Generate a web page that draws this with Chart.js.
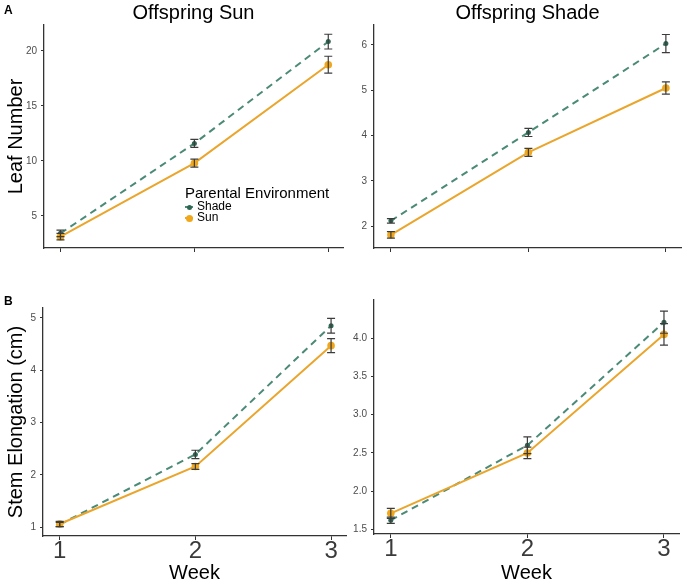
<!DOCTYPE html>
<html>
<head>
<meta charset="utf-8">
<script src="https://cdn.jsdelivr.net/npm/chart.js@4/dist/chart.umd.min.js"></script>
<style>
  body { margin: 0; background: #fff; font-family: 'Liberation Sans', Arial, sans-serif; }
  #wrap { position: relative; width: 686px; height: 585px; overflow: hidden; }
  canvas { position: absolute; }
  .tag { position: absolute; font-weight: bold; font-size: 12px; color: #000; }
  #legend { position: absolute; left: 185px; top: 184px; color: #000; }
  #legend .ttl { font-size: 15px; line-height: 17px; }
  #legend .item { font-size: 12px; line-height: 11px; position: relative; padding-left: 12px; }
  #legend .ln { position: absolute; left: 0; top: 5px; width: 8px; height: 2px; }
  #legend .pt { position: absolute; border-radius: 50%; }
</style>
</head>
<body>
<div id="wrap">
  <canvas id="leafSun" width="350" height="290" style="left:0;top:0"></canvas>
  <canvas id="leafShade" width="346" height="290" style="left:340px;top:0"></canvas>
  <canvas id="stemSun" width="350" height="300" style="left:0;top:285px"></canvas>
  <canvas id="stemShade" width="346" height="300" style="left:340px;top:285px"></canvas>
  <div class="tag" style="left:4px;top:3px">A</div>
  <div class="tag" style="left:4px;top:294px">B</div>
  <div id="legend"></div>
</div>
<script>
// ── data ────────────────────────────────────────────────
const weeks = [1, 2, 3];
const seriesNames = ['Shade', 'Sun'];   // parental environment

// Leaf number – offspring in sun
const leafSunShade = [3.42, 11.6, 20.85];
const leafSunShadeErr = [0.3, 0.36, 0.67];
const leafSunSun = [3.12, 9.8, 18.75];
const leafSunSunErr = [0.3, 0.36, 0.77];

// Leaf number – offspring in shade
const leafShadeShade = [2.12, 4.07, 6.03];
const leafShadeShadeErr = [0.05, 0.09, 0.2];
const leafShadeSun = [1.81, 3.63, 5.05];
const leafShadeSunErr = [0.07, 0.09, 0.135];

// Stem elongation – offspring in sun
const stemSunShade = [1.05, 2.39, 4.85];
const stemSunShadeErr = [0.04, 0.08, 0.14];
const stemSunSun = [1.06, 2.16, 4.47];
const stemSunSunErr = [0.05, 0.055, 0.135];

// Stem elongation – offspring in shade
const stemShadeShade = [1.62, 2.6, 4.21];
const stemShadeShadeErr = [0.04, 0.11, 0.145];
const stemShadeSun = [1.71, 2.5, 4.05];
const stemShadeSunErr = [0.065, 0.075, 0.14];

const leafSunTicks = [5, 10, 15, 20];
const leafShadeTicks = [2, 3, 4, 5, 6];
const stemSunTicks = [1, 2, 3, 4, 5];
const stemShadeTicks = [1.5, 2.0, 2.5, 3.0, 3.5, 4.0];
const weekTicks = [1, 2, 3];

// ── styling ─────────────────────────────────────────────
Chart.defaults.font.family = "'Liberation Sans', Arial, sans-serif";
const shadeLine = '#4b8a77', shadePoint = '#2e6654';
const sunLine = '#eaa52c', sunPoint = '#f0a71c';
const axisCol = '#333333';

// error bars drawn from each dataset's `errors` array
const errorBars = {
    id: 'errorBars',
    afterDatasetsDraw(chart) {
        const ctx = chart.ctx, xs = chart.scales.x, ys = chart.scales.y;
        ctx.save();
        ctx.strokeStyle = '#3c3c3c';
        ctx.lineWidth = 1.2;
        chart.data.datasets.forEach(function (ds) {
            ds.data.forEach(function (p, i) {
                const e = ds.errors[i];
                const px = xs.getPixelForValue(p.x);
                const t = ys.getPixelForValue(p.y + e), b = ys.getPixelForValue(p.y - e);
                ctx.beginPath();
                ctx.moveTo(px, t); ctx.lineTo(px, b);
                ctx.moveTo(px - 4, t); ctx.lineTo(px + 4, t);
                ctx.moveTo(px - 4, b); ctx.lineTo(px + 4, b);
                ctx.stroke();
            });
        });
        ctx.restore();
    },
};

function pts(vals) { return weeks.map((w, i) => ({ x: w, y: vals[i] })); }

function panel(id, o) {
    new Chart(document.getElementById(id), {
        type: 'line',
        data: {
            datasets: [{
                label: seriesNames[0],
                data: pts(o.shade), errors: o.shadeErr,
                borderColor: shadeLine, borderWidth: 2, borderDash: [7, 5],
                pointRadius: 2.5, pointBackgroundColor: shadePoint, pointBorderWidth: 0,
                order: 1,
            }, {
                label: seriesNames[1],
                data: pts(o.sun), errors: o.sunErr,
                borderColor: sunLine, borderWidth: 2,
                pointRadius: 3.8, pointBackgroundColor: sunPoint, pointBorderWidth: 0,
                order: 0,
            }],
        },
        options: {
            responsive: false,
            animation: false,
            layout: { padding: { top: o.padTop, right: o.padRight, left: 0, bottom: 0 } },
            plugins: {
                legend: { display: false },
                tooltip: { enabled: false },
                title: {
                    display: !!o.title, text: o.title, color: '#000', fullSize: false,
                    font: { size: 20, weight: 'normal' }, padding: { top: 1, bottom: 0 },
                },
            },
            scales: {
                x: {
                    type: 'linear', min: 0.877, max: 3.11,
                    afterBuildTicks(s) { s.ticks = weekTicks.map((v) => ({ value: v })); },
                    afterFit(s) { s.height = o.xHeight; },
                    border: { color: axisCol, width: 1.3 },
                    grid: { drawOnChartArea: false, tickLength: 4, color: axisCol },
                    ticks: { display: o.xLabels, color: '#3a3a3a', font: { size: 24 }, padding: -3 },
                    title: {
                        display: o.xLabels, text: 'Week', color: '#000',
                        font: { size: 20 }, padding: { top: 0, bottom: 0 },
                    },
                },
                y: {
                    min: o.yMin, max: o.yMax,
                    afterBuildTicks(s) { s.ticks = o.ticks.map((v) => ({ value: v })); },
                    afterFit(s) { s.width = o.yWidth; },
                    border: { color: axisCol, width: 1.3 },
                    grid: { drawOnChartArea: false, tickLength: 3, color: axisCol },
                    ticks: {
                        color: '#4d4d4d', font: { size: 10 }, padding: 4,
                        callback: (v) => v.toFixed(o.decimals),
                    },
                    title: {
                        display: !!o.yTitle, text: o.yTitle, color: '#000',
                        font: { size: 20 }, padding: { top: 4, bottom: 0 },
                    },
                },
            },
        },
        plugins: [errorBars],
    });
}

panel('leafSun', {
    title: 'Offspring Sun', yTitle: 'Leaf Number',
    shade: leafSunShade, shadeErr: leafSunShadeErr, sun: leafSunSun, sunErr: leafSunSunErr,
    ticks: leafSunTicks, decimals: 0, yMin: 2.09, yMax: 22.36,
    yWidth: 44, xHeight: 42, padTop: 0, padRight: 7, xLabels: false,
});
panel('leafShade', {
    title: 'Offspring Shade', yTitle: '',
    shade: leafShadeShade, shadeErr: leafShadeShadeErr, sun: leafShadeSun, sunErr: leafShadeSunErr,
    ticks: leafShadeTicks, decimals: 0, yMin: 1.52, yMax: 6.44,
    yWidth: 34, xHeight: 42, padTop: 0, padRight: 5, xLabels: false,
});
panel('stemSun', {
    title: '', yTitle: 'Stem Elongation (cm)',
    shade: stemSunShade, shadeErr: stemSunShadeErr, sun: stemSunSun, sunErr: stemSunSunErr,
    ticks: stemSunTicks, decimals: 0, yMin: 0.83, yMax: 5.19,
    yWidth: 43, xHeight: 49, padTop: 23, padRight: 2, xLabels: true,
});
panel('stemShade', {
    title: '', yTitle: '',
    shade: stemShadeShade, shadeErr: stemShadeShadeErr, sun: stemShadeSun, sunErr: stemShadeSunErr,
    ticks: stemShadeTicks, decimals: 1, yMin: 1.44, yMax: 4.5,
    yWidth: 34, xHeight: 51, padTop: 15, padRight: 7, xLabels: true,
});

// legend for parental environment
const legendStyles = [
    { line: shadeLine, point: shadePoint, r: 2.5 },
    { line: sunLine, point: sunPoint, r: 3.5 },
];
const lg = document.getElementById('legend');
lg.innerHTML = '<div class="ttl">Parental Environment</div>' + seriesNames.map(function (n, i) {
    const s = legendStyles[i], d = s.r * 2;
    return '<div class="item"><span class="ln" style="background:' + s.line + '"></span>'
        + '<span class="pt" style="background:' + s.point + ';width:' + d + 'px;height:' + d + 'px;left:' + (4 - s.r) + 'px;top:' + (6 - s.r) + 'px"></span>'
        + n + '</div>';
}).join('');
</script>
</body>
</html>
